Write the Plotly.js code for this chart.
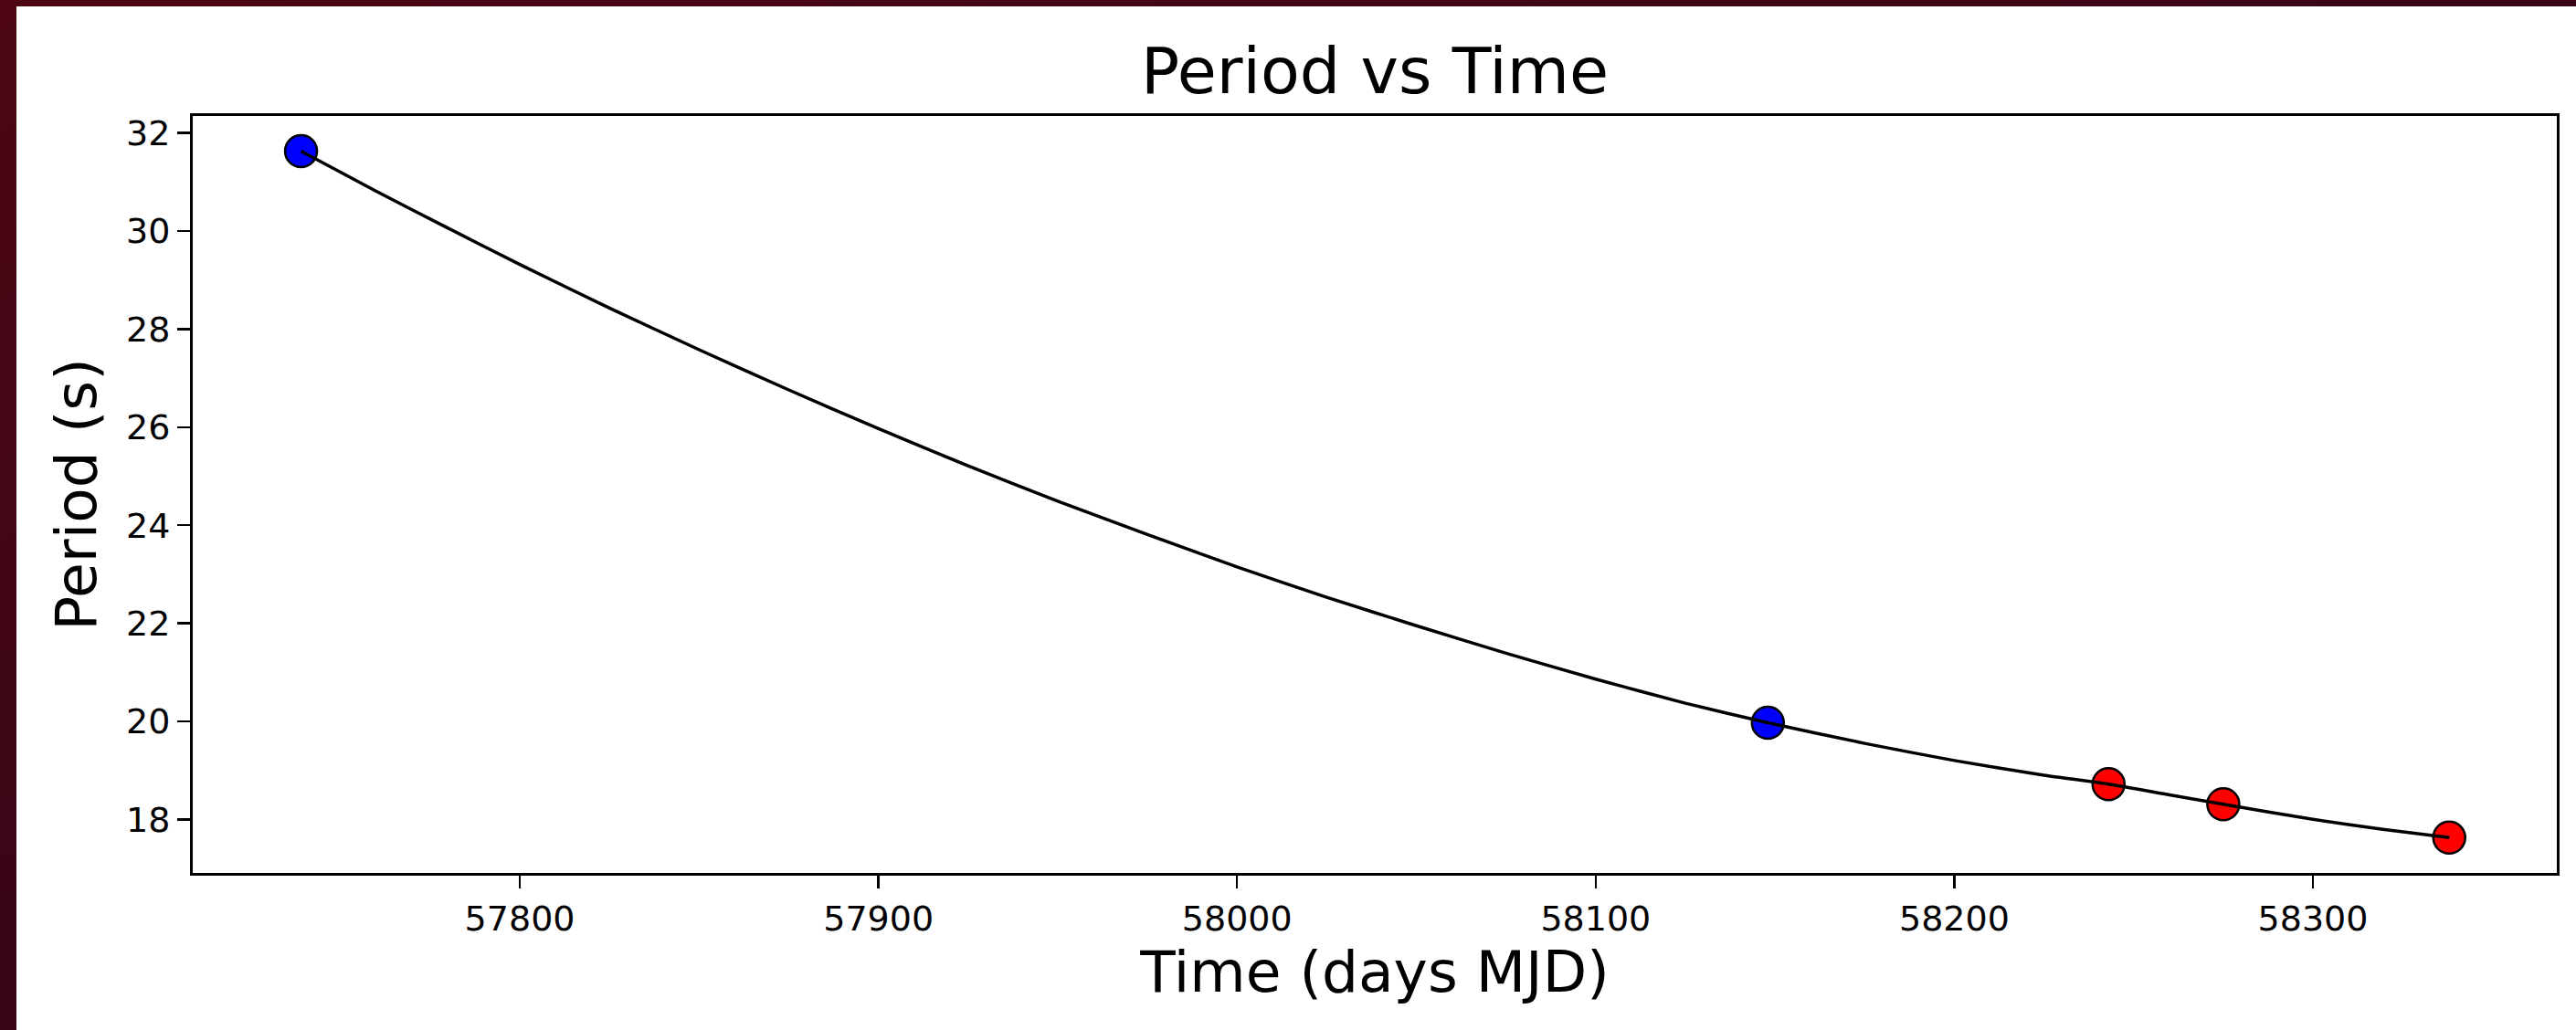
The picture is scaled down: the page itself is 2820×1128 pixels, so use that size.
<!DOCTYPE html>
<html>
<head>
<meta charset="utf-8">
<script src="https://cdn.plot.ly/plotly-3.0.1.min.js"></script>
<style>
  html, body { margin: 0; padding: 0; width: 2820px; height: 1128px; overflow: hidden; }
  body { background: linear-gradient(160deg, #4e0614 0%, #3a0616 45%, #22030f 100%); }
  #chart { position: absolute; left: 18px; top: 7px; width: 2802px; height: 1121px; background: #ffffff; }
</style>
</head>
<body>
<div id="chart"></div>
<script>
// Observed spin periods (s) at each epoch (MJD), split by instrument colour
const blueTimes   = [57739, 58148];
const bluePeriods = [31.63, 19.97];
const redTimes    = [58243, 58275, 58338];
const redPeriods  = [18.72, 18.31, 17.63];

// Spin-up model curve through the observations
const modelTimes   = [57739, 57760, 57780, 57800, 57825, 57850, 57875, 57900, 57925, 57950,
                      57975, 58000, 58025, 58050, 58075, 58100, 58125, 58148, 58175, 58200,
                      58225, 58243, 58260, 58275, 58300, 58320, 58338];
const modelPeriods = [31.63, 30.81, 30.06, 29.32, 28.43, 27.58, 26.76, 25.97, 25.21, 24.49,
                      23.81, 23.15, 22.53, 21.95, 21.39, 20.86, 20.37, 19.97, 19.55, 19.20,
                      18.90, 18.72, 18.50, 18.31, 18.00, 17.79, 17.63];

const xTicks = [57800, 57900, 58000, 58100, 58200, 58300];
const yTicks = [18, 20, 22, 24, 26, 28, 30, 32];

const FONT = 'DejaVu Sans, Verdana, sans-serif';

const markerStyle = (fill) => ({
  color: fill, size: 35,
  line: { color: '#000000', width: 2.5 }
});

const data = [
  { x: blueTimes, y: bluePeriods, mode: 'markers', type: 'scatter',
    marker: markerStyle('#0000ff'), hoverinfo: 'x+y' },
  { x: redTimes, y: redPeriods, mode: 'markers', type: 'scatter',
    marker: markerStyle('#ff0000'), hoverinfo: 'x+y' },
  { x: modelTimes, y: modelPeriods, mode: 'lines', type: 'scatter',
    line: { color: '#000000', width: 3.5, shape: 'spline', smoothing: 0.6 }, hoverinfo: 'skip' }
];

const axisCommon = {
  showline: true, linecolor: '#000000', linewidth: 3, mirror: true,
  showgrid: false, zeroline: false,
  ticks: 'outside', ticklen: 14, tickwidth: 2.5, tickcolor: '#000000',
  tickfont: { family: FONT, size: 38, color: '#000000' },
  automargin: false
};

const layout = {
  width: 2802, height: 1121,
  paper_bgcolor: '#ffffff', plot_bgcolor: '#ffffff',
  showlegend: false,
  margin: { l: 193, r: 21, t: 120, b: 172, pad: 0 },
  font: { family: FONT, color: '#000000' },
  title: {
    text: 'Period vs Time',
    font: { family: FONT, size: 70, color: '#000000' },
    x: 0.5, xref: 'paper', xanchor: 'center',
    y: 0.915, yref: 'container', yanchor: 'bottom'
  },
  xaxis: Object.assign({}, axisCommon, {
    range: [57708.8, 58368.0],
    tickmode: 'array', tickvals: xTicks, ticktext: xTicks.map(String),
    title: { text: 'Time (days MJD)', font: { family: FONT, size: 63, color: '#000000' }, standoff: 12 }
  }),
  yaxis: Object.assign({}, axisCommon, {
    range: [16.907, 32.348],
    tickmode: 'array', tickvals: yTicks, ticktext: yTicks.map(String),
    title: { text: 'Period (s)', font: { family: FONT, size: 63, color: '#000000' }, standoff: 12 }
  })
};

Plotly.newPlot('chart', data, layout, { displayModeBar: false, staticPlot: true });
</script>
</body>
</html>
